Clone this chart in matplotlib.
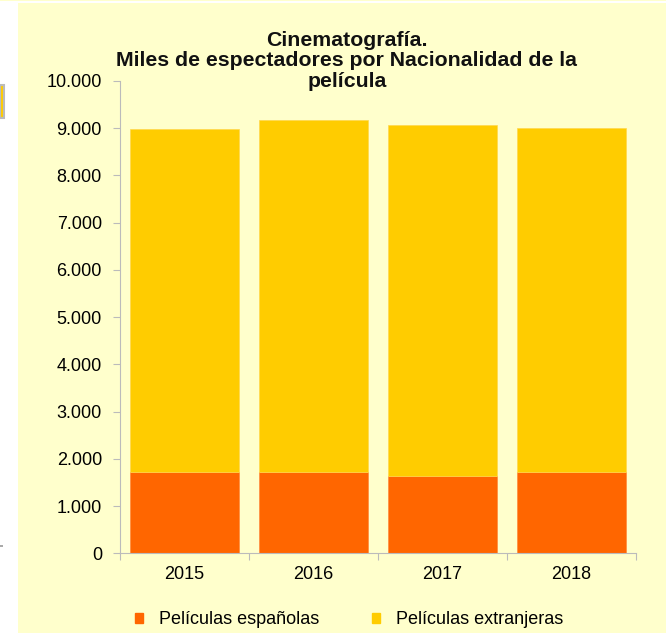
import matplotlib.pyplot as plt
from matplotlib.patches import Patch, Rectangle
from matplotlib.ticker import FuncFormatter

# Miles de espectadores por año y nacionalidad de la película
anios = ["2015", "2016", "2017", "2018"]
espanolas = [1720, 1730, 1630, 1715]
extranjeras = [7260, 7445, 7440, 7300]

color_esp = "#FF6600"
color_ext = "#FFCC00"
fondo = "#FFFFCC"

plt.rcParams['font.family'] = ['Liberation Sans', 'DejaVu Sans']

fig = plt.figure(figsize=(6.66, 6.33), dpi=100)
fig.patch.set_facecolor("white")

# panel de fondo del gráfico
fig.patches.append(Rectangle((18 / 666, 0), 1, (633 - 3) / 633,
                             transform=fig.transFigure, facecolor=fondo,
                             edgecolor="none", zorder=-5))
fig.patches.append(Rectangle((0, 0.998), 1, 0.002, transform=fig.transFigure,
                             facecolor=fondo, edgecolor="none", zorder=-5))
# restos del borde izquierdo
fig.patches.append(Rectangle((0, (633 - 118) / 633), 4 / 666, 33 / 633,
                             transform=fig.transFigure, facecolor=color_ext,
                             edgecolor="#BBBBBB", linewidth=1.5, zorder=-5))
fig.patches.append(Rectangle((0, (633 - 547) / 633), 3 / 666, 2 / 633,
                             transform=fig.transFigure, facecolor="#AAAAAA",
                             edgecolor="none", zorder=-5))

ax = fig.add_axes([120 / 666, (633 - 553.3) / 633, 516 / 666, 472.3 / 633])
ax.set_facecolor("none")

x = range(len(anios))
ax.bar(x, espanolas, width=0.84, color=color_esp, edgecolor="#FF8A3D",
       linewidth=0.5, label="Películas españolas")
ax.bar(x, extranjeras, width=0.84, bottom=espanolas, color=color_ext,
       edgecolor="#FFD84D", linewidth=0.5, label="Películas extranjeras")

ax.set_xlim(-0.5, len(anios) - 0.5)
ax.set_ylim(0, 10000)
ax.set_yticks(range(0, 10001, 1000))
ax.yaxis.set_major_formatter(FuncFormatter(lambda v, p: f"{int(v):,}".replace(",", ".")))

# marcas entre categorías y etiquetas centradas
ax.set_xticks([i - 0.5 for i in range(len(anios) + 1)])
ax.set_xticklabels([])
ax.set_xticks(list(x), minor=True)
ax.set_xticklabels(anios, minor=True)
ax.tick_params(axis="x", which="major", length=5, color="#BBBBBB")
ax.tick_params(axis="x", which="minor", length=0, pad=9, labelsize=13)
ax.tick_params(axis="y", length=5, color="#BBBBBB", pad=8, labelsize=13)

for lado in ["top", "right"]:
    ax.spines[lado].set_visible(False)
for lado in ["left", "bottom"]:
    ax.spines[lado].set_color("#BBBBBB")

fig.text(347 / 666, (633 - 61) / 633,
         "Cinematografía.\nMiles de espectadores por Nacionalidad de la\npelícula",
         ha="center", va="center", fontsize=15.3, fontweight="bold",
         linespacing=1.12, color="#111111")

handles = [Patch(color=color_esp), Patch(color=color_ext)]
fig.legend(handles, ["Películas españolas", "Películas extranjeras"],
           loc="center", bbox_to_anchor=(349 / 666, (633 - 620) / 633),
           ncol=2, frameon=False, fontsize=13, handlelength=0.45,
           handleheight=0.45, handletextpad=0.9, columnspacing=2.9)

fig.savefig("out.png", dpi=100, facecolor=fig.get_facecolor())
